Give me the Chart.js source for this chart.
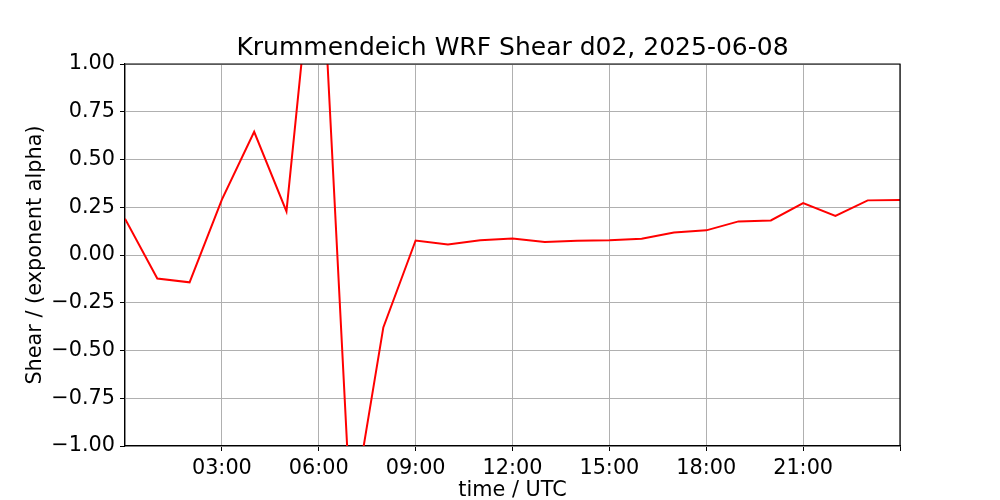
<!DOCTYPE html>
<html>
<head>
<meta charset="utf-8">
<script src="https://cdn.jsdelivr.net/npm/chart.js@4"></script>
<style>
  html, body { margin: 0; padding: 0; background: #fff; }
  #wrap { width: 1000px; height: 500px; }
</style>
</head>
<body>
<div id="wrap"><canvas id="shear"></canvas></div>
<script>
// ============ data ============
const HOURS = [0, 1, 2, 3, 4, 5, 6, 7, 8, 9, 10, 11, 12, 13, 14, 15, 16, 17, 18, 19, 20, 21, 22, 23, 24];
const SHEAR = [0.19, -0.123, -0.143, 0.29, 0.645, 0.228, 1.9, -1.40, -0.379, 0.076, 0.055, 0.077, 0.087, 0.068, 0.074, 0.077, 0.085, 0.118, 0.129, 0.176, 0.181, 0.272, 0.205, 0.286, 0.288];
const X_TICKS = [0, 3, 6, 9, 12, 15, 18, 21, 24];
const Y_TICKS = [-1, -0.75, -0.5, -0.25, 0, 0.25, 0.5, 0.75, 1];

const FONT = "'DejaVu Sans', sans-serif";

const fmtHour = h => (h >= 3 && h <= 21) ? String(h).padStart(2, "0") + ":00" : "";
const fmtY = v => (v < 0 ? "\u2212" : "") + Math.abs(v).toFixed(2);

new Chart(document.getElementById("shear"), {
  type: "line",
  data: {
    datasets: [{
      data: HOURS.map((h, i) => ({ x: h, y: SHEAR[i] })),
      borderColor: "#ff0000",
      borderWidth: 2,
      pointRadius: 0,
      tension: 0,
      fill: false
    }]
  },
  options: {
    responsive: true,
    maintainAspectRatio: false,
    animation: false,
    layout: { padding: { top: 0, right: 100, bottom: 0, left: 0 } },
    plugins: {
      legend: { display: false },
      tooltip: { enabled: false },
      title: {
        display: true,
        text: "Krummendeich WRF Shear d02, 2025-06-08",
        color: "#000",
        fullSize: false,
        font: { family: FONT, size: 25, weight: "normal" },
        padding: { top: 33, bottom: 1 }
      }
    },
    scales: {
      x: {
        type: "linear",
        min: 0,
        max: 24,
        afterBuildTicks: s => { s.ticks = X_TICKS.map(v => ({ value: v })); },
        afterFit: s => { s.height = 54; },
        ticks: {
          callback: v => fmtHour(v),
          color: "#000",
          font: { family: FONT, size: 20.8 },
          padding: 5,
          maxRotation: 0,
          autoSkip: false
        },
        grid: {
          color: "#b0b0b0",
          lineWidth: 1,
          tickLength: 5,
          tickColor: ctx => (ctx.tick && ctx.tick.value === 0) ? "rgba(0,0,0,0)" : "#000"
        },
        border: { color: "#000", width: 1.2 },
        title: {
          display: true,
          text: "time / UTC",
          color: "#000",
          font: { family: FONT, size: 20.8 },
          padding: { top: 0, bottom: -3 }
        }
      },
      y: {
        min: -1,
        max: 1,
        afterBuildTicks: s => { s.ticks = Y_TICKS.map(v => ({ value: v })); },
        afterFit: s => { s.width = 125; },
        ticks: {
          callback: v => fmtY(v),
          color: "#000",
          font: { family: FONT, size: 20.8 },
          padding: 5
        },
        grid: {
          color: "#b0b0b0",
          lineWidth: 1,
          tickLength: 5,
          tickColor: "#000"
        },
        border: { color: "#000", width: 1.2 },
        title: {
          display: true,
          text: "Shear / (exponent alpha)",
          color: "#000",
          font: { family: FONT, size: 20.8 },
          padding: { top: 23, bottom: 0 }
        }
      }
    }
  },
  plugins: [{
    id: "frame",
    afterDatasetsDraw(chart) {
      const { ctx, chartArea: a } = chart;
      ctx.save();
      ctx.strokeStyle = "#000";
      ctx.lineWidth = 1.2;
      ctx.beginPath();
      ctx.moveTo(a.left, a.top);
      ctx.lineTo(a.right, a.top);
      ctx.lineTo(a.right, a.bottom);
      ctx.stroke();
      ctx.restore();
    }
  }]
});
</script>
</body>
</html>
